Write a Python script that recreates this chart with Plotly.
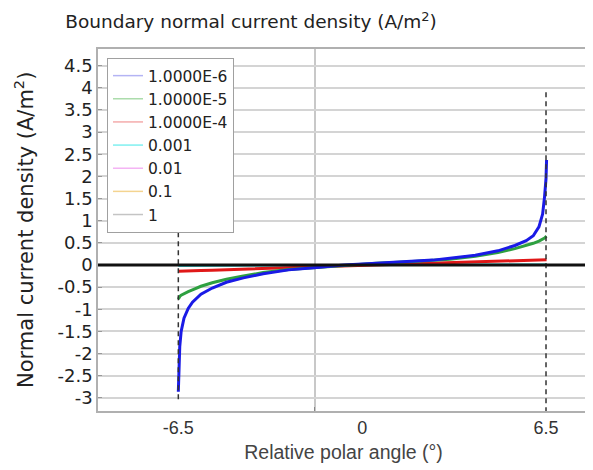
import plotly.graph_objects as go

# ---- data ----
angle = [-6.5, -6.48, -6.45, -6.4, -6.3, -6.15, -6.0, -5.7, -5.3, -4.8, -4.2, -3.5,
         -2.6, -1.7, -0.65, 0.5, 1.5, 2.5, 3.1, 4.0, 4.8, 5.4, 5.8, 6.05, 6.25,
         6.38, 6.45, 6.5, 6.52]

j_1e6 = [-2.86, -2.3, -1.85, -1.5, -1.2, -0.98, -0.84, -0.66, -0.52, -0.39, -0.29, -0.20,
         -0.11, -0.06, 0.0, 0.04, 0.07, 0.11, 0.15, 0.22, 0.32, 0.44, 0.55, 0.66, 0.86,
         1.15, 1.55, 1.95, 2.37]
j_1e5 = [-0.77, -0.74, -0.71, -0.68, -0.64, -0.60, -0.56, -0.48, -0.40, -0.32, -0.25, -0.17,
         -0.10, -0.06, 0.0, 0.04, 0.07, 0.10, 0.13, 0.20, 0.28, 0.37, 0.44, 0.49, 0.54,
         0.58, 0.61, 0.64, 0.65]
j_1e4 = [-0.14, -0.14, -0.14, -0.138, -0.136, -0.133, -0.13, -0.124, -0.116, -0.106, -0.094, -0.08,
         -0.062, -0.044, -0.023, 0.0, 0.02, 0.04, 0.052, 0.07, 0.086, 0.098, 0.106, 0.111, 0.115,
         0.118, 0.119, 0.12, 0.12]
j_1e3 = [-0.015, -0.015, -0.015, -0.015, -0.015, -0.014, -0.014, -0.013, -0.012, -0.011, -0.01, -0.008,
         -0.006, -0.004, -0.002, 0.0, 0.002, 0.004, 0.005, 0.007, 0.009, 0.01, 0.011, 0.011, 0.012,
         0.012, 0.012, 0.012, 0.012]
j_1e2 = [-0.002, -0.002, -0.002, -0.002, -0.002, -0.002, -0.002, -0.002, -0.001, -0.001, -0.001, -0.001,
         -0.001, 0.0, 0.0, 0.0, 0.0, 0.0, 0.001, 0.001, 0.001, 0.001, 0.001, 0.001, 0.001,
         0.001, 0.001, 0.001, 0.001]
j_1e1 = [0.0] * len(angle)
j_1 = [0.0] * len(angle)

series_names = ["1.0000E-6", "1.0000E-5", "1.0000E-4", "0.001", "0.01", "0.1", "1"]
series_values = [j_1e6, j_1e5, j_1e4, j_1e3, j_1e2, j_1e1, j_1]

boundary_x = [-6.5, 6.5]
boundary_top = [0.74, 3.9]
boundary_bottom = [-3.12, -3.3]

y_ticks = [-3, -2.5, -2, -1.5, -1, -0.5, 0, 0.5, 1, 1.5, 2, 2.5, 3, 3.5, 4, 4.5]
y_ticklabels = ["-3", "-2.5", "-2", "-1.5", "-1", "-0.5", "0", "0.5", "1", "1.5", "2",
                "2.5", "3", "3.5", "4", "4.5"]
x_ticks = [-6.5, 0, 6.5]
x_ticklabels = ["-6.5", "0", "6.5"]
x_extra_grid = [-1.67]

# ---- styles ----
line_colors = ["#1a1ae6", "#2ea040", "#e01818", "#00d8d8", "#e040e0", "#e8a800", "#808080"]
legend_colors = ["#b4b4f4", "#acdcac", "#f4acac", "#80f0f0", "#f4b4f4", "#f4d490", "#c4c4c4"]
line_widths = [3, 3, 3, 2, 2, 2, 2]

W, H = 585, 462          # page body has an 8px margin
L, R, T, B = 90, 4, 41, 59
PW = W - L - R

fig = go.Figure()

order = [6, 5, 4, 3, 2, 1, 0]
for i in order:
    fig.add_trace(go.Scatter(
        x=angle, y=series_values[i], mode="lines",
        line=dict(color=line_colors[i], width=line_widths[i]),
        showlegend=False, hoverinfo="skip"))

for bx, bt, bb in zip(boundary_x, boundary_top, boundary_bottom):
    fig.add_trace(go.Scatter(
        x=[bx, bx], y=[bt, bb], mode="lines",
        line=dict(color="#333333", width=1.5, dash="5px,4px"),
        showlegend=False, hoverinfo="skip"))

for name, c in zip(series_names, legend_colors):
    fig.add_trace(go.Scatter(
        x=[None], y=[None], mode="lines", name=name,
        line=dict(color=c, width=1.5), showlegend=True))

fig.add_shape(type="line", xref="paper", yref="y", x0=0, x1=1, y0=0, y1=0,
              line=dict(color="#111111", width=3), layer="above")

fig.update_layout(
    template="none",
    width=W, height=H,
    margin=dict(l=L, r=R, t=T, b=B, autoexpand=False),
    paper_bgcolor="white", plot_bgcolor="white",
    font=dict(family="DejaVu Sans", size=17, color="#222222"),
    title=dict(text="Boundary normal current density (A/m<sup>2</sup>)",
               x=243 / W, xanchor="center", xref="container",
               y=1 - 14 / H, yanchor="middle", yref="container",
               font=dict(family="DejaVu Sans", size=18.5, color="#222222")),
    showlegend=True,
    legend=dict(x=9 / PW, y=0.975, xanchor="left", yanchor="top",
                bgcolor="white", bordercolor="#a0a0a0", borderwidth=1,
                font=dict(family="DejaVu Sans", size=15.5, color="#222222"),
                tracegroupgap=0, itemwidth=30),
)

fig.update_xaxes(
    automargin=False,
    range=[-9.34, 8.02], tickvals=x_ticks, ticktext=x_ticklabels,
    showgrid=False, zeroline=False, ticks="",
    showline=True, linecolor="#b0b0b0", linewidth=1.5, mirror=True,
    tickfont=dict(family="Liberation Sans", size=18, color="#333333"),
    title=dict(text="Relative polar angle (°)", standoff=8,
               font=dict(family="Liberation Sans", size=19.5, color="#444444")),
    minor=dict(tickvals=x_extra_grid, showgrid=True, gridcolor="#c8c8c8",
               gridwidth=1.5, ticks="inside", ticklen=4, tickcolor="#888888"),
)

fig.update_yaxes(
    automargin=False,
    range=[-3.296, 4.876], tickvals=y_ticks, ticktext=y_ticklabels,
    showgrid=True, gridcolor="#d4d4d4", gridwidth=1.5, zeroline=False,
    ticks="inside", ticklen=4, tickcolor="#999999",
    showline=True, linecolor="#b0b0b0", linewidth=1.5, mirror="ticks",
    tickfont=dict(family="DejaVu Sans", size=18, color="#222222"),
)

fig.add_annotation(
    text="Normal current density (A/m<sup>2</sup>)", textangle=-90,
    xref="paper", yref="paper", x=(0 - L) / PW, y=0.5, xanchor="left", yanchor="middle",
    showarrow=False, font=dict(family="DejaVu Sans", size=21, color="#222222"))

fig.write_html("out.html")
